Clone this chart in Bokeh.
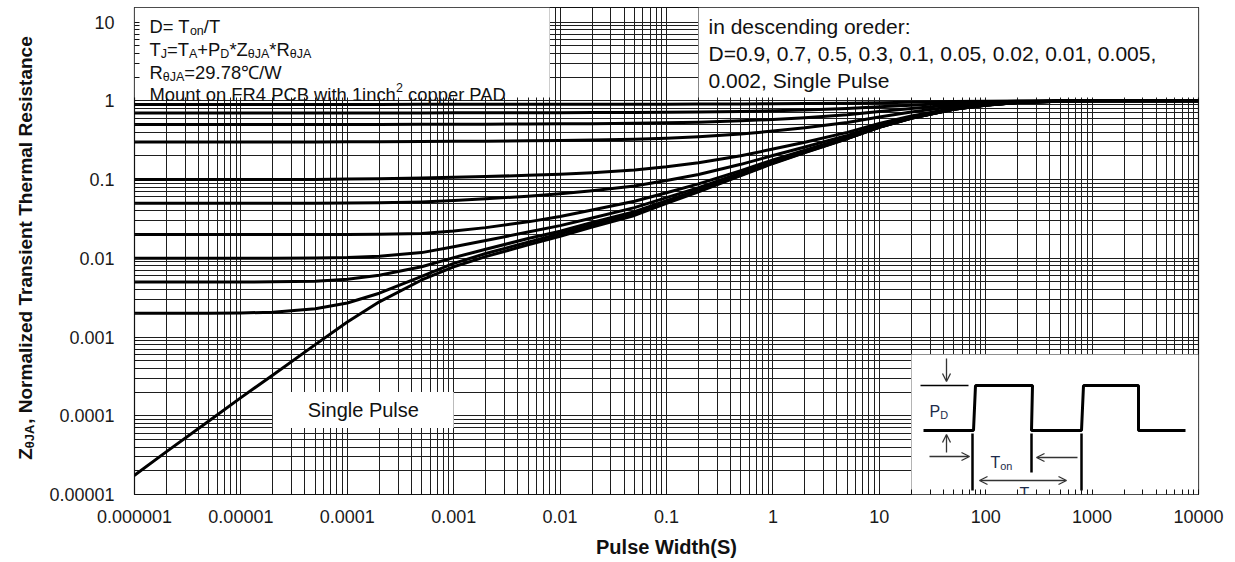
import math
from bokeh.plotting import figure
from bokeh.layouts import row
from bokeh.models import FixedTicker, Arrow, OpenHead, Range1d, ColumnDataSource
from bokeh.core.properties import value
from bokeh.embed import file_html
from bokeh.resources import INLINE

# Pulse widths (s) at which each curve is sampled
pulse_width = [1e-6, 2e-6, 5e-6, 1e-5, 2e-5, 5e-5, 1e-4, 2e-4, 5e-4, 1e-3,
               2e-3, 5e-3, 0.01, 0.02, 0.05, 0.1, 0.2, 0.5, 1, 2,
               5, 10, 20, 50, 100, 200, 500, 1000, 2000, 5000, 10000]

# Normalized transient thermal resistance Z(thJA) for each duty cycle
z_d0_9 = [0.9, 0.9, 0.9, 0.9, 0.9, 0.9, 0.9, 0.9, 0.9005, 0.9008,
          0.901, 0.9015, 0.902, 0.9025, 0.9035, 0.905, 0.907, 0.911, 0.916, 0.922,
          0.933, 0.946, 0.96, 0.978, 0.988, 0.995, 0.999, 1.0, 1.0, 1.0, 1.0]
z_d0_7 = [0.7, 0.7, 0.7, 0.7, 0.7, 0.7, 0.7, 0.7008, 0.7016, 0.7023,
          0.7032, 0.7044, 0.7057, 0.7075, 0.7105, 0.715, 0.721, 0.7336, 0.748, 0.766,
          0.799, 0.838, 0.88, 0.934, 0.964, 0.985, 0.997, 1.0, 1.0, 1.0, 1.0]
z_d0_5 = [0.5, 0.5, 0.5, 0.5, 0.5, 0.5, 0.5008, 0.5014, 0.5027, 0.504,
          0.5053, 0.5074, 0.5095, 0.5125, 0.5175, 0.525, 0.535, 0.556, 0.58, 0.61,
          0.665, 0.73, 0.8, 0.89, 0.94, 0.975, 0.995, 1.0, 1.0, 1.0, 1.0]
z_d0_3 = [0.3, 0.3, 0.3, 0.3, 0.3, 0.3, 0.301, 0.302, 0.3037, 0.3055,
          0.307, 0.31, 0.313, 0.3175, 0.3245, 0.335, 0.349, 0.378, 0.412, 0.454,
          0.531, 0.622, 0.72, 0.846, 0.916, 0.965, 0.993, 1.0, 1.0, 1.0, 1.0]
z_d0_1 = [0.1, 0.1, 0.1, 0.1, 0.1, 0.1, 0.1012, 0.1025, 0.1048, 0.107,
          0.109, 0.113, 0.117, 0.122, 0.132, 0.145, 0.163, 0.2, 0.244, 0.298,
          0.397, 0.514, 0.64, 0.802, 0.892, 0.955, 0.991, 1.0, 1.0, 1.0, 1.0]
z_d0_05 = [0.05, 0.05, 0.05, 0.05, 0.05, 0.05, 0.0503, 0.0508, 0.052, 0.054,
           0.057, 0.0615, 0.066, 0.072, 0.083, 0.097, 0.116, 0.156, 0.202, 0.259,
           0.364, 0.487, 0.62, 0.79, 0.886, 0.952, 0.99, 1.0, 1.0, 1.0, 1.0]
z_d0_02 = [0.02, 0.02, 0.02, 0.02, 0.02, 0.02, 0.02, 0.0202, 0.0207, 0.0222,
           0.0245, 0.029, 0.034, 0.041, 0.053, 0.068, 0.088, 0.13, 0.177, 0.236,
           0.343, 0.47, 0.608, 0.784, 0.882, 0.951, 0.99, 1.0, 1.0, 1.0, 1.0]
z_d0_01 = [0.01, 0.01, 0.01, 0.01, 0.01, 0.01005, 0.0102, 0.0106, 0.0118, 0.014,
           0.0168, 0.0215, 0.026, 0.0325, 0.044, 0.059, 0.079, 0.121, 0.169, 0.229,
           0.337, 0.465, 0.604, 0.782, 0.881, 0.95, 0.99, 1.0, 1.0, 1.0, 1.0]
z_d0_005 = [0.005, 0.005, 0.005, 0.005, 0.00502, 0.0051, 0.0054, 0.0061, 0.0078, 0.0102,
            0.013, 0.0178, 0.022, 0.0285, 0.039, 0.054, 0.074, 0.116, 0.164, 0.224,
            0.334, 0.463, 0.602, 0.781, 0.881, 0.95, 0.99, 1.0, 1.0, 1.0, 1.0]
z_d0_002 = [0.002, 0.002, 0.002, 0.00202, 0.00207, 0.00228, 0.0027, 0.0036, 0.0059, 0.0086,
            0.0115, 0.016, 0.0205, 0.0265, 0.0365, 0.0515, 0.0715, 0.114, 0.162, 0.222,
            0.332, 0.461, 0.601, 0.78, 0.88, 0.95, 0.99, 1.0, 1.0, 1.0, 1.0]
z_single = [1.75e-5, 3.5e-5, 8.6e-5, 1.7e-4, 3.3e-4, 8.0e-4, 1.55e-3, 2.8e-3, 5.3e-3, 7.8e-3,
            0.0105, 0.0148, 0.019, 0.025, 0.035, 0.05, 0.07, 0.112, 0.16, 0.22,
            0.33, 0.46, 0.6, 0.78, 0.88, 0.95, 0.99, 1.0, 1.0, 1.0, 1.0]

x_ticks = [1e-6, 1e-5, 1e-4, 1e-3, 1e-2, 1e-1, 1, 10, 100, 1000, 10000]
x_tick_labels = ["0.000001", "0.00001", "0.0001", "0.001", "0.01", "0.1",
                 "1", "10", "100", "1000", "10000"]
y_ticks = [1e-5, 1e-4, 1e-3, 1e-2, 1e-1, 1, 10]
y_tick_labels = ["0.00001", "0.0001", "0.001", "0.01", "0.1", "1", "10"]

W, H = 1235, 562
TITLE_W = 40                      # strip holding the vertical axis title
X_LO, X_HI = 1e-6, 1e4
Y_LO, Y_HI = 1e-5, 15.3
FRAME_LEFT, FRAME_TOP = 134, 7    # canvas position of the plot frame
FRAME_W, FRAME_H = 1064, 487
FRAME_BOTTOM_GAP = H - FRAME_TOP - FRAME_H
FONT = "Liberation Sans"
INK = "#111111"

p = figure(x_axis_type="log", y_axis_type="log",
           x_range=Range1d(X_LO, X_HI), y_range=Range1d(Y_LO, Y_HI),
           frame_width=FRAME_W, frame_height=FRAME_H,
           min_border_left=FRAME_LEFT - TITLE_W, min_border_right=W - FRAME_LEFT - FRAME_W,
           min_border_top=FRAME_TOP, min_border_bottom=FRAME_BOTTOM_GAP,
           output_backend="svg", toolbar_location=None,
           background_fill_color="white", border_fill_color="white")
p.outline_line_color = INK
p.outline_line_width = 1.2

x_minor = [m * 10.0 ** e for e in range(-6, 4) for m in range(2, 10)]
y_minor = [m * 10.0 ** e for e in range(-5, 2) for m in range(2, 10) if m * 10.0 ** e < Y_HI]
x_ticker = FixedTicker(ticks=x_ticks, minor_ticks=x_minor)
y_ticker = FixedTicker(ticks=y_ticks, minor_ticks=y_minor)

for ax, tk, labels in ((p.xaxis[0], x_ticker, dict(zip(x_ticks, x_tick_labels))),
                       (p.yaxis[0], y_ticker, dict(zip(y_ticks, y_tick_labels)))):
    ax.ticker = tk
    ax.major_label_overrides = labels
    ax.axis_line_color = None
    ax.major_tick_in = 5
    ax.major_tick_out = 0
    ax.minor_tick_in = 5
    ax.minor_tick_out = 0
    ax.major_tick_line_color = INK
    ax.minor_tick_line_color = INK
    ax.major_label_text_font = FONT
    ax.major_label_text_font_size = "18px"
    ax.major_label_text_color = "#1a1a1a"

p.xaxis.major_label_standoff = 15
p.yaxis.major_label_standoff = 20
p.xaxis.axis_label = "Pulse Width(S)"
p.xaxis.axis_label_text_font = FONT
p.xaxis.axis_label_text_font_style = "bold"
p.xaxis.axis_label_text_font_size = "20px"
p.xaxis.axis_label_text_color = INK
p.xaxis.axis_label_standoff = 10

for g, tk in ((p.xgrid[0], x_ticker), (p.ygrid[0], y_ticker)):
    g.ticker = tk
    g.grid_line_color = "#1e1e1e"
    g.grid_line_width = 1
    g.grid_line_alpha = 1
    g.minor_grid_line_color = "#1e1e1e"
    g.minor_grid_line_width = 1

# White panels that hold the notes and the pulse sketch
panels = ColumnDataSource(dict(
    left=[X_LO, 0.2, 2e-5, 20],
    right=[0.008, X_HI, 1e-3, X_HI],
    bottom=[1.1, 1.1, 7e-5, Y_LO],
    top=[Y_HI, Y_HI, 2e-4, 6e-4],
))
p.quad(left="left", right="right", bottom="bottom", top="top", source=panels,
       fill_color="white", line_color=None)

# Curves, largest duty cycle first
curves = ColumnDataSource(dict(t=pulse_width, d0_9=z_d0_9, d0_7=z_d0_7, d0_5=z_d0_5,
                               d0_3=z_d0_3, d0_1=z_d0_1, d0_05=z_d0_05, d0_02=z_d0_02,
                               d0_01=z_d0_01, d0_005=z_d0_005, d0_002=z_d0_002,
                               single=z_single))
for col in ["d0_9", "d0_7", "d0_5", "d0_3", "d0_1", "d0_05", "d0_02",
            "d0_01", "d0_005", "d0_002", "single"]:
    p.line("t", col, source=curves, line_color="black", line_width=3,
           line_join="round", line_cap="round")


def at(cx, cy):
    """Canvas pixel position -> data coordinates on the log axes."""
    lx0, lx1 = math.log10(X_LO), math.log10(X_HI)
    ly0, ly1 = math.log10(Y_LO), math.log10(Y_HI)
    lx = lx0 + (cx - FRAME_LEFT) / FRAME_W * (lx1 - lx0)
    ly = ly1 - (cy - FRAME_TOP) / FRAME_H * (ly1 - ly0)
    return 10 ** lx, 10 ** ly


REG = {" ": 278, "*": 389, "+": 584, ",": 278, ".": 278, "/": 278, ":": 278, "=": 584,
       "A": 667, "B": 667, "C": 722, "D": 722, "F": 611, "J": 500, "M": 833, "P": 667,
       "R": 722, "S": 667, "T": 611, "W": 944, "Z": 611,
       "a": 556, "c": 500, "d": 556, "e": 556, "g": 556, "h": 556, "i": 222, "l": 222,
       "n": 556, "o": 556, "p": 556, "r": 333, "s": 500, "t": 278, "u": 556, "w": 722,
       "θ": 556, "℃": 900}
BOLD = {" ": 278, ",": 278, "A": 722, "J": 556, "N": 722, "R": 722, "T": 611, "Z": 611,
        "a": 556, "c": 556, "d": 611, "e": 556, "h": 611, "i": 278, "l": 278, "m": 889,
        "n": 611, "o": 611, "r": 389, "s": 556, "t": 333, "z": 500, "θ": 611}


def text_w(s, size, bold=False):
    table = BOLD if bold else REG
    return sum(table.get(ch, 556) for ch in s) * size / 1000.0


def rich(parts, cx, base, size, color=INK):
    """Write a line of text with sub/superscripts starting at canvas (cx, base)."""
    xs, ys, txt, sizes = [], [], [], []
    for s, kind in parts:
        fs = size if kind == "" else size * 0.68
        dy = 0 if kind == "" else (0.22 * size if kind == "sub" else -0.38 * size)
        lead = len(s) - len(s.lstrip(" "))
        cx += text_w(" " * lead, fs)          # svg drops leading blanks
        s = s.lstrip(" ")
        x, y = at(cx, base + dy)
        xs.append(x); ys.append(y); txt.append(s); sizes.append(f"{fs:.1f}px")
        cx += text_w(s, fs)
    src = ColumnDataSource(dict(x=xs, y=ys, text=txt, size=sizes))
    p.text("x", "y", text="text", source=src, text_font=value(FONT), text_font_size="size",
           text_color=color, text_align="left", text_baseline="alphabetic")


# Notes, upper left
NOTE = 18.4
rich([("D= T", ""), ("on", "sub"), ("/T", "")], 149, 26, NOTE)
rich([("T", ""), ("J", "sub"), ("=T", ""), ("A", "sub"), ("+P", ""), ("D", "sub"),
      ("*Z", ""), ("θJA", "sub"), ("*R", ""), ("θJA", "sub")], 149, 49, NOTE)
rich([("R", ""), ("θJA", "sub"), ("=29.78℃/W", "")], 149, 72, NOTE)
rich([("Mount on FR4 PCB with 1inch", ""), ("2", "sup"), (" copper PAD", "")], 149, 94, NOTE)

# Notes, upper right
rich([("in descending oreder:", "")], 708, 26, 21)
rich([("D=0.9, 0.7, 0.5, 0.3, 0.1, 0.05, 0.02, 0.01, 0.005,", "")], 708, 53, 21)
rich([("0.002, Single Pulse", "")], 708, 80, 21)

# Single pulse tag, centred in its panel
p.text(x=[math.sqrt(2e-5 * 1e-3)], y=[math.sqrt(7e-5 * 2e-4)], text=["Single Pulse"],
       text_font=value(FONT), text_font_size="20px", text_color=INK,
       text_align="center", text_baseline="middle")

# Pulse train sketch, lower right
wave = [(923, 430), (973, 430), (975, 385), (1032, 385), (1031, 430), (1081, 430),
        (1083, 385), (1138, 385), (1138, 430), (1185, 430)]
pts = [at(cx, cy) for cx, cy in wave]
p.line([q[0] for q in pts], [q[1] for q in pts], line_color="black", line_width=3)
ref = [at(920, 385), at(968, 385)]
p.line([q[0] for q in ref], [q[1] for q in ref], line_color="black", line_width=1.5)
for cx, y0, y1 in ((972, 433, 490), (1031, 433, 472), (1081, 433, 490)):
    a, b = at(cx, y0), at(cx, y1)
    p.line([a[0], b[0]], [a[1], b[1]], line_color="black", line_width=2.5)

ARROW_INK = "#333333"
for (x0, y0), (x1, y1), both in (((946, 358), (946, 381), False),
                                 ((946, 452), (946, 434), False),
                                 ((929, 456), (969, 456), False),
                                 ((1077, 457), (1036, 457), False),
                                 ((979, 480), (1066, 480), True)):
    s, e = at(x0, y0), at(x1, y1)
    p.add_layout(Arrow(x_start=s[0], y_start=s[1], x_end=e[0], y_end=e[1],
                       line_color=ARROW_INK, line_width=1.3,
                       end=OpenHead(size=8, line_color=ARROW_INK, line_width=1.3),
                       start=OpenHead(size=8, line_color=ARROW_INK, line_width=1.3) if both else None))

SKETCH_INK = "#1c2b4a"
rich([("P", ""), ("D", "sub")], 929, 411, 16, SKETCH_INK)
rich([("T", ""), ("on", "sub")], 990, 462, 16, SKETCH_INK)
rich([("T", "")], 1019, 493, 16, SKETCH_INK)

# Vertical axis title (with the theta-JA subscript) in its own strip; the strip's
# frame lines up with the plot frame, so its y data runs in canvas pixels from the bottom
t = figure(width=TITLE_W, height=H, x_range=Range1d(0, TITLE_W),
           y_range=Range1d(FRAME_BOTTOM_GAP, H - FRAME_TOP),
           x_axis_type=None, y_axis_type=None, output_backend="svg", toolbar_location=None,
           min_border_left=0, min_border_right=0, min_border_top=FRAME_TOP,
           min_border_bottom=FRAME_BOTTOM_GAP, outline_line_color=None,
           background_fill_color="white", border_fill_color="white")
TITLE_SIZE = 19
pieces = [("Z", 0, TITLE_SIZE), ("θJA", 4, TITLE_SIZE * 0.68),
          (", Normalized Transient Thermal Resistance", 0, TITLE_SIZE)]
total = sum(text_w(s, fs, bold=True) for s, _, fs in pieces)
y_canvas = 247 + total / 2
tx, ty, tt, ts = [], [], [], []
for s, shift, fs in pieces:
    tx.append(25 + shift); ty.append(H - y_canvas); tt.append(s); ts.append(f"{fs:.1f}px")
    y_canvas -= text_w(s, fs, bold=True)
t.text("x", "y", text="text", source=ColumnDataSource(dict(x=tx, y=ty, text=tt, size=ts)),
       angle=math.pi / 2, text_font=value(FONT), text_font_style="bold",
       text_font_size="size", text_color=INK, text_align="left", text_baseline="alphabetic")

layout = row(t, p, spacing=0)
open("out.html", "w").write(file_html(layout, INLINE))
